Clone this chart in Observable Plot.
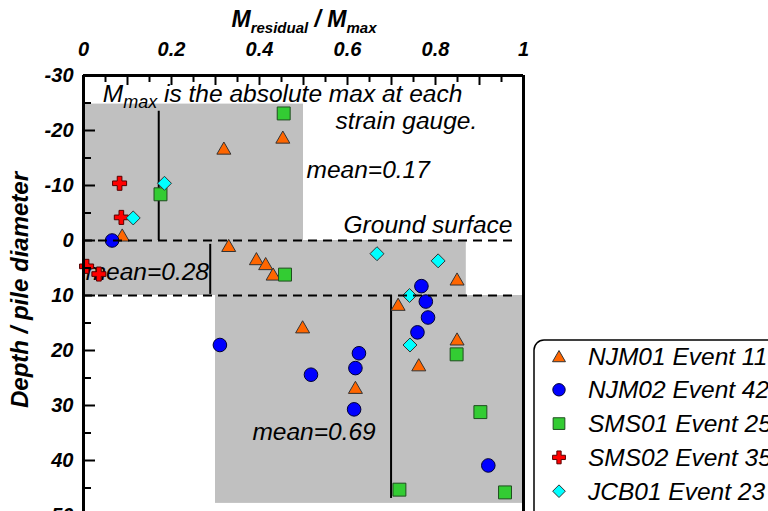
<!DOCTYPE html>
<html>
<head>
<meta charset="utf-8">
<script src="https://cdn.jsdelivr.net/npm/d3@7"></script>
<script src="https://cdn.jsdelivr.net/npm/@observablehq/plot@0.6"></script>
<style>
html, body { margin: 0; padding: 0; background: #fff; overflow: hidden; }
#chart { width: 768px; height: 511px; }
</style>
</head>
<body>
<div id="chart"></div>
<script>
// ---------- data ----------
const xTickValues = [0, 0.2, 0.4, 0.6, 0.8, 1];
const xTickLabels = ["0", "0.2", "0.4", "0.6", "0.8", "1"];
const xMajorTicks = [0.1, 0.2, 0.3, 0.4, 0.5, 0.6, 0.7, 0.8, 0.9];
const xMinorTicks = [0.05, 0.15, 0.25, 0.35, 0.45, 0.55, 0.65, 0.75, 0.85, 0.95];
const yTickValues = [-30, -20, -10, 0, 10, 20, 30, 40, 50];
const yMinorTicks = [-25, -15, -5, 5, 15, 25, 35, 45];

const seriesNames = ["NJM01 Event 11", "NJM02 Event 42", "SMS01 Event 25", "SMS02 Event 35", "JCB01 Event 23"];

// [M_residual/M_max, depth/pile diameter]
const njm01 = [[0.453, -18.8], [0.319, -16.8], [0.088, -1.0], [0.330, 0.9], [0.393, 3.3], [0.414, 4.2],
  [0.431, 6.1], [0.849, 7.0], [0.715, 11.6], [0.498, 15.7], [0.849, 17.9], [0.762, 22.6], [0.618, 26.7]];
const njm02 = [[0.065, 0.0], [0.768, 8.3], [0.778, 11.1], [0.783, 14.0], [0.759, 16.7], [0.310, 19.0],
  [0.626, 20.5], [0.618, 23.2], [0.517, 24.4], [0.615, 30.7], [0.920, 40.9]];
const sms01 = [[0.455, -23.1], [0.175, -8.4], [0.458, 6.2], [0.848, 20.7], [0.902, 31.2], [0.718, 45.3], [0.958, 45.8]];
const sms02 = [[0.082, -10.4], [0.086, -4.2], [0.007, 4.7], [0.035, 6.1]];
const jcb01 = [[0.184, -10.4], [0.113, -4.1], [0.667, 2.4], [0.806, 3.7], [0.741, 10.0], [0.742, 19.0]];

// shaded zones
const zoneX1 = [0, 0, 0.3];
const zoneX2 = [0.5, 0.87, 1];
const zoneY1 = [-24.8, 0, 10];
const zoneY2 = [0, 10, 47.8];

// mean lines
const meanX = [0.171, 0.288, 0.699];
const meanY1 = [-23.5, 0.7, 10];
const meanY2 = [0, 9.8, 46.9];

// ground surface / layer lines
const layerY = [0, 10];
const layerXEnd = 0.975;

// annotation texts (baseline positions in data units)
const noteTexts = ["strain gauge.", "mean=0.17", "Ground surface", "mean=0.28", "mean=0.69"];
const noteX = [0.573, 0.507, 0.591, 0.005, 0.384];
const noteY = [-20.2, -11.3, -1.3, 7.1, 36.2];

// ---------- styles ----------
const FONT = '"Liberation Sans", Arial, Helvetica, sans-serif';
const colors = ["#FF6600", "#0000FF", "#33CC33", "#FF0000", "#00FFFF"];
const strokes = ["#333333", "#000033", "#1f4d1f", "#550000", "#333333"];
const symbols = ["triangle", "circle", "square", "cross", "diamond2"];
const radii = [5.2, 6.8, 7.3, 5.9, 6.3];
const dys = [2, 0, 0, 0, 0];
const seriesData = [njm01, njm02, sms01, sms02, jcb01];

const zones = zoneX1.map((d, i) => ({x1: d, x2: zoneX2[i], y1: zoneY1[i], y2: zoneY2[i]}));
const means = meanX.map((d, i) => ({x: d, y1: meanY1[i], y2: meanY2[i]}));
const notes = noteTexts.map((t, i) => ({t, x: noteX[i], y: noteY[i]}));

const plot = Plot.plot({
  width: 768,
  height: 511,
  marginLeft: 83,
  marginRight: 245,
  marginTop: 75,
  marginBottom: 0,
  style: {fontFamily: FONT, background: "white", color: "black"},
  x: {domain: [0, 1], range: [83, 523]},
  y: {domain: [-30, 50], range: [75, 515]},
  marks: [
    Plot.rect(zones, {x1: "x1", x2: "x2", y1: "y1", y2: "y2", fill: "#C0C0C0"}),
    Plot.ruleX(means, {x: "x", y1: "y1", y2: "y2", stroke: "black", strokeWidth: 2}),
    Plot.text(notes, {x: "x", y: "y", text: "t", textAnchor: "start", lineAnchor: "bottom",
      fontSize: 24.5, fontStyle: "italic", fontFamily: FONT, fill: "black"}),
    ...seriesData.map((data, i) => Plot.dot(data, {
      x: d => d[0], y: d => d[1], symbol: symbols[i], r: radii[i], dy: dys[i],
      fill: colors[i], stroke: strokes[i], strokeWidth: 1
    })),
    Plot.ruleY(layerY, {y: d => d, x1: 0, x2: layerXEnd, stroke: "black", strokeWidth: 2, strokeDasharray: "9,6"}),
    // frame
    Plot.ruleX([0, 1], {stroke: "black", strokeWidth: 3}),
    Plot.ruleY([-30], {stroke: "black", strokeWidth: 3}),
    // top axis labels
    Plot.axisX({anchor: "top", ticks: xTickValues, tickSize: 0, tickPadding: 20,
      tickFormat: d => xTickLabels[xTickValues.indexOf(d)],
      fontSize: 20, fontWeight: "bold", fontStyle: "italic", fontFamily: FONT, label: null}),
    // top inward ticks
    Plot.axisX({anchor: "top", ticks: xMajorTicks, tickSize: 9, dy: 9, strokeWidth: 2, fill: "none", label: null}),
    Plot.axisX({anchor: "top", ticks: xMinorTicks, tickSize: 6, dy: 6, strokeWidth: 2, fill: "none", label: null}),
    // left axis labels
    Plot.axisY({anchor: "left", ticks: yTickValues, tickSize: 0, tickPadding: 10,
      tickFormat: d => String(d),
      fontSize: 20, fontWeight: "bold", fontStyle: "italic", fontFamily: FONT, label: null}),
    // left inward ticks
    Plot.axisY({anchor: "left", ticks: yTickValues, tickSize: 12, dx: 12, strokeWidth: 2, fill: "none", label: null}),
    Plot.axisY({anchor: "left", ticks: yMinorTicks, tickSize: 8, dx: 8, strokeWidth: 2, fill: "none", label: null})
  ]
});

const svg = d3.select(plot);
const xs = plot.scale("x"), ys = plot.scale("y");

// subscripted annotation
const ann = svg.append("text")
  .attr("x", xs.apply(0.045)).attr("y", ys.apply(-25.1)).attr("text-anchor", "start")
  .attr("font-family", FONT).attr("font-size", 24.5).attr("font-style", "italic").attr("fill", "black");
ann.append("tspan").text("M");
ann.append("tspan").attr("font-size", 18).attr("dy", 6).text("max");
ann.append("tspan").attr("dy", -6).text(" is the absolute max at each");

// x axis title
const xt = svg.append("text")
  .attr("x", 304).attr("y", 27).attr("text-anchor", "middle")
  .attr("font-family", FONT).attr("font-size", 23).attr("font-weight", "bold").attr("font-style", "italic").attr("fill", "black");
xt.append("tspan").text("M");
xt.append("tspan").attr("font-size", 15).attr("dy", 6).text("residual");
xt.append("tspan").attr("dy", -6).text(" / M");
xt.append("tspan").attr("font-size", 15).attr("dy", 6).text("max");

// y axis title
svg.append("text")
  .attr("transform", "translate(20,290) rotate(-90)")
  .attr("text-anchor", "middle").attr("dy", "0.35em")
  .attr("font-family", FONT).attr("font-size", 24).attr("font-weight", "bold").attr("font-style", "italic").attr("fill", "black")
  .text("Depth / pile diameter");

// legend
const lg = svg.append("g");
lg.append("rect").attr("x", 534).attr("y", 340).attr("width", 260).attr("height", 200).attr("rx", 10)
  .attr("fill", "white").attr("stroke", "black").attr("stroke-width", 1.5);
const d3sym = {triangle: d3.symbolTriangle, circle: d3.symbolCircle, square: d3.symbolSquare, cross: d3.symbolCross, diamond2: d3.symbolDiamond2};
const legendR = [4.8, 6.2, 6.6, 5.4, 5.7];
seriesNames.forEach((name, i) => {
  const cy = 356 + i * 33.8;
  lg.append("path")
    .attr("transform", `translate(559,${cy + dys[i]})`)
    .attr("d", d3.symbol().type(d3sym[symbols[i]]).size(Math.PI * legendR[i] * legendR[i])())
    .attr("fill", colors[i]).attr("stroke", strokes[i]).attr("stroke-width", 1);
  lg.append("text").attr("x", 588).attr("y", cy).attr("dy", "0.35em").attr("text-anchor", "start")
    .attr("font-family", FONT).attr("font-size", 24.5).attr("font-style", "italic").attr("fill", "black")
    .text(name);
});

document.getElementById("chart").appendChild(plot);
</script>
</body>
</html>
